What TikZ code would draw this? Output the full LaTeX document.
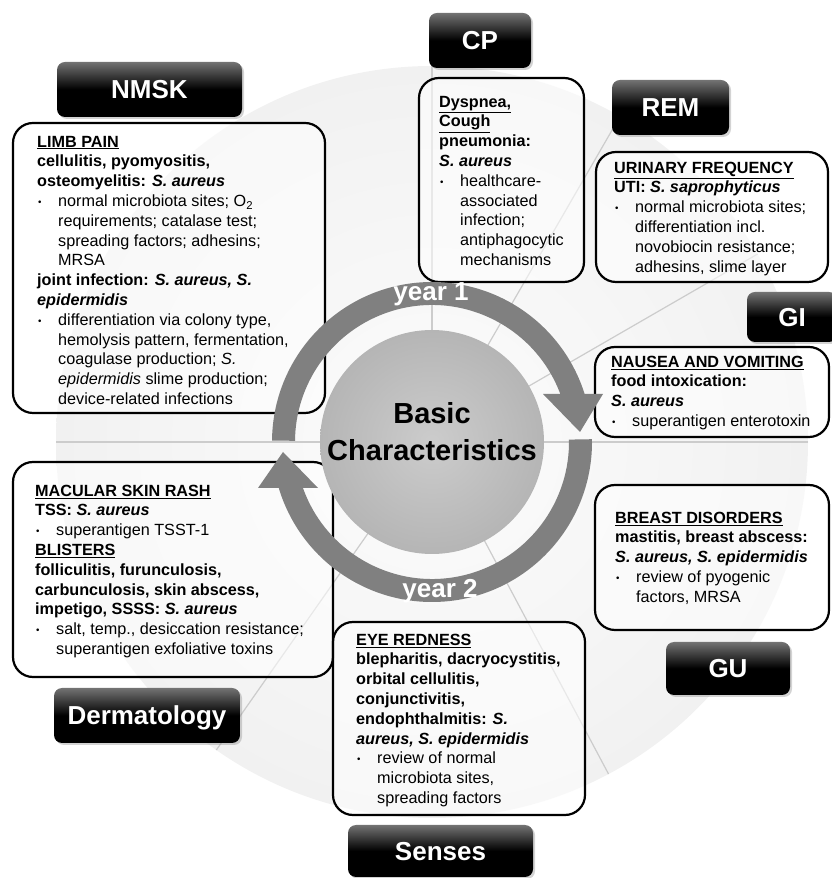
\documentclass[tikz,border=0pt]{standalone}
\usepackage{fontspec}
\setmainfont{Liberation Sans}
\usetikzlibrary{shadows}

\newcommand{\bullitem}{\makebox[21pt][l]{\hspace{1pt}\raisebox{1pt}{\scalebox{.6}{\textbullet}}}}
\newcommand{\contline}{\hspace*{21pt}}
\newcommand{\boxlines}[1]{\begin{tabular}{@{}l@{}}#1\end{tabular}}

\tikzset{
  sector/.style={draw=gray!40, line width=1.2pt},
  casebox/.style={draw=black, line width=2.2pt, rounded corners=20pt, fill=white, fill opacity=.55, inner sep=0pt},
  casetext/.style={anchor=north west, inner sep=0pt, font=\fontsize{16.2}{19.8}\selectfont},
  system/.style={rounded corners=8pt, top color=black!55, bottom color=black, middle color=black,
    text=white, font=\fontsize{26}{30}\selectfont\bfseries, text height=18.6pt, text depth=0pt,
    inner sep=0pt, drop shadow={opacity=.35, shadow xshift=2pt, shadow yshift=-2pt}},
  ring/.style={fill=gray},
  year/.style={text=white, font=\fontsize{26}{30}\selectfont\bfseries, anchor=base, inner sep=0pt},
}

\begin{document}
\begin{tikzpicture}[x=1pt,y=1pt]
    \useasboundingbox (0,0) rectangle (831,878);
    \coordinate (hub) at (432,436);

    % background disk and sector lines
    \shade[inner color=gray!2, outer color=gray!11] (hub) circle (376);
    \foreach \a in {0,30,60,90,180,235,298}
        \draw[sector] (hub) -- ++(\a:376);

    % case boxes
    \node[casebox, minimum width=312pt, minimum height=290pt] (nmskbox)  at (169,610)   {};
    \node[casebox, minimum width=165pt, minimum height=204pt] (cpbox)    at (501.5,698) {};
    \node[casebox, minimum width=232pt, minimum height=130pt] (rembox)   at (712,661)   {};
    \node[casebox, minimum width=234pt, minimum height=90pt]  (gibox)    at (712,486)   {};
    \node[casebox, minimum width=234pt, minimum height=145pt] (gubox)    at (712,320.5) {};
    \node[casebox, minimum width=320pt, minimum height=215pt] (dermbox)  at (173,308.5) {};
    \node[casebox, minimum width=252pt, minimum height=193pt] (sensebox) at (459,159.5) {};

    % year 1 / year 2 arrows
    \fill[ring] ([shift={(179.5:160)}]hub) arc[start angle=179.5, end angle=17.46, radius=160]
        -- ([shift={(20.5:137)}]hub) arc[start angle=20.5, end angle=179.5, radius=137] -- cycle;
    \fill[ring] (543,484) -- (603,484) -- (580,446) -- cycle;
    \fill[ring] ([shift={(1:160)}]hub) arc[start angle=1, end angle=-163.3, radius=160]
        -- ([shift={(-160.4:137)}]hub) arc[start angle=-160.4, end angle=1, radius=137] -- cycle;
    \fill[ring] (258,390) -- (318,390) -- (283,426) -- cycle;

    % centre
    \node[circle, minimum size=224pt, inner sep=0pt, inner color=gray!40, outer color=gray!58] (core) at (hub) {};
    \node[anchor=north, inner sep=0pt, font=\fontsize{29}{37}\selectfont\bfseries] (coretext) at (432,480.9)
        {\begin{tabular}{@{}c@{}}Basic\\Characteristics\end{tabular}};
    \node[year] (yr1) at (431,577) {year 1};
    \node[year] (yr2) at (440,280) {year 2};

    % box texts
    \node[casetext] (nmsktext) at (37,744.86) {\boxlines{%
        \underline{\textbf{LIMB PAIN}}\\
        \textbf{cellulitis, pyomyositis,}\\
        \textbf{osteomyelitis: \textit{S. aureus}}\\
        \bullitem normal microbiota sites; O\textsubscript{2}\\
        \contline requirements; catalase test;\\
        \contline spreading factors; adhesins;\\
        \contline MRSA\\
        \textbf{joint infection: \textit{S. aureus, S.}}\\
        \textbf{\textit{epidermidis}}\\
        \bullitem differentiation via colony type,\\
        \contline hemolysis pattern, fermentation,\\
        \contline coagulase production; \textit{S.}\\
        \contline \textit{epidermidis} slime production;\\
        \contline device-related infections}};
    \node[casetext] (cptext) at (439,784.86) {\boxlines{%
        \underline{\textbf{Dyspnea,}}\\
        \underline{\textbf{Cough}}\\
        \textbf{pneumonia:}\\
        \textbf{\textit{S. aureus}}\\
        \bullitem healthcare-\\
        \contline associated\\
        \contline infection;\\
        \contline antiphagocytic\\
        \contline mechanisms}};
    \node[casetext] (remtext) at (614,718.86) {\boxlines{%
        \underline{\textbf{URINARY FREQUENCY}}\\
        \textbf{UTI: \textit{S. saprophyticus}}\\
        \bullitem normal microbiota sites;\\
        \contline differentiation incl.\\
        \contline novobiocin resistance;\\
        \contline adhesins, slime layer}};
    \node[casetext] (gitext) at (611,524.86) {\boxlines{%
        \underline{\textbf{NAUSEA AND VOMITING}}\\
        \textbf{food intoxication:}\\
        \textbf{\textit{S. aureus}}\\
        \bullitem superantigen enterotoxin}};
    \node[casetext] (gutext) at (615,368.86) {\boxlines{%
        \underline{\textbf{BREAST DISORDERS}}\\
        \textbf{mastitis, breast abscess:}\\
        \textbf{\textit{S. aureus, S. epidermidis}}\\
        \bullitem review of pyogenic\\
        \contline factors, MRSA}};
    \node[casetext] (dermtext) at (35,395.86) {\boxlines{%
        \underline{\textbf{MACULAR SKIN RASH}}\\
        \textbf{TSS: \textit{S. aureus}}\\
        \bullitem superantigen TSST-1\\
        \underline{\textbf{BLISTERS}}\\
        \textbf{folliculitis, furunculosis,}\\
        \textbf{carbunculosis, skin abscess,}\\
        \textbf{impetigo, SSSS: \textit{S. aureus}}\\
        \bullitem salt, temp., desiccation resistance;\\
        \contline superantigen exfoliative toxins}};
    \node[casetext] (sensetext) at (356,246.86) {\boxlines{%
        \underline{\textbf{EYE REDNESS}}\\
        \textbf{blepharitis, dacryocystitis,}\\
        \textbf{orbital cellulitis,}\\
        \textbf{conjunctivitis,}\\
        \textbf{endophthalmitis: \textit{S.}}\\
        \textbf{\textit{aureus, S. epidermidis}}\\
        \bullitem review of normal\\
        \contline microbiota sites,\\
        \contline spreading factors}};

    % system labels
    \node[system, minimum width=185pt, minimum height=55pt] (nmsk)   at (149.5,788.5) {NMSK};
    \node[system, minimum width=102pt, minimum height=55pt] (cp)     at (480,837.5)   {CP};
    \node[system, minimum width=117pt, minimum height=55pt] (rem)    at (670.5,770.5) {REM};
    \node[system, minimum width=90pt,  minimum height=50pt] (gi)     at (792,561)     {GI};
    \node[system, minimum width=124pt, minimum height=53pt] (gu)     at (728,209.5)   {GU};
    \node[system, minimum width=186pt, minimum height=55pt] (derm)   at (147,162.5)   {Dermatology};
    \node[system, minimum width=185pt, minimum height=52pt] (senses) at (440.5,27)    {Senses};
\end{tikzpicture}
\end{document}
